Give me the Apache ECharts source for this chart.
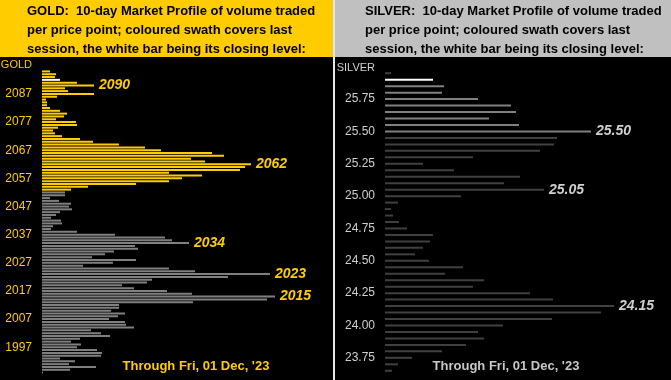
<!DOCTYPE html>
<html>
<head>
<meta charset="utf-8">
<script src="https://cdn.jsdelivr.net/npm/echarts@6/dist/echarts.min.js"></script>
<style>html,body{margin:0;padding:0;background:#000;}#c{width:671px;height:380px;}</style>
</head>
<body>
<div id="c"></div>
<script>
// ---------- GOLD ----------
const goldPrices = [2095,2094,2093,2092,2091,2090,2089,2088,2087,2086,2085,2084,2083,2082,2081,2080,2079,2078,2077,2076,2075,2074,2073,2072,2071,2070,2069,2068,2067,2066,2065,2064,2063,2062,2061,2060,2059,2058,2057,2056,2055,2054,2053,2052,2051,2050,2049,2048,2047,2046,2045,2044,2043,2042,2041,2040,2039,2038,2037,2036,2035,2034,2033,2032,2031,2030,2029,2028,2027,2026,2025,2024,2023,2022,2021,2020,2019,2018,2017,2016,2015,2014,2013,2012,2011,2010,2009,2008,2007,2006,2005,2004,2003,2002,2001,2000,1999,1998,1997,1996,1995,1994,1993,1992,1991,1990,1989,1988];
const goldVolume = [8,14,13,18,35,52,23,26,52,15,4,5,5,8,18,25,22,14,34,35,16,11,13,20,38,51,77,103,119,170,182,149,163,209,203,198,127,160,140,127,94,46,29,23,23,8,17,29,27,30,18,14,9,19,20,11,9,35,73,123,130,147,93,96,72,63,50,94,71,41,127,153,228,186,110,105,80,92,125,150,233,225,151,77,77,69,83,76,67,83,84,92,49,59,68,38,29,39,35,55,60,59,18,33,27,54,28,1];
const goldTicks = [2087,2077,2067,2057,2047,2037,2027,2017,2007,1997];
const goldSessionHigh = 2095, goldSessionLow = 2053, goldClose = 2092;
const goldCallouts = [2090,2062,2034,2023,2015];

// ---------- SILVER ----------
const silverPrices = [25.95,25.90,25.85,25.80,25.75,25.70,25.65,25.60,25.55,25.50,25.45,25.40,25.35,25.30,25.25,25.20,25.15,25.10,25.05,25.00,24.95,24.90,24.85,24.80,24.75,24.70,24.65,24.60,24.55,24.50,24.45,24.40,24.35,24.30,24.25,24.20,24.15,24.10,24.05,24.00,23.95,23.90,23.85,23.80,23.75,23.70,23.65];
const silverVolume = [6,48,59,57,93,126,131,104,134,206,172,169,155,88,38,69,135,119,159,76,13,6,8,14,22,48,45,38,30,44,78,60,99,88,145,168,229,216,167,118,93,99,81,57,27,13,7];
const silverTicks = ['25.75','25.50','25.25','25.00','24.75','24.50','24.25','24.00','23.75'];
const silverSessionHigh = 25.90, silverSessionLow = 25.50, silverClose = 25.90;
const silverCallouts = ['25.50','25.05','24.15'];

const headerGold = 'GOLD:  10-day Market Profile of volume traded\nper price point; coloured swath covers last\nsession, the white bar being its closing level:';
const headerSilver = 'SILVER:  10-day Market Profile of volume traded\nper price point; coloured swath covers last\nsession, the white bar being its closing level:';
const footer = "Through Fri, 01 Dec, '23";

const GOLD = '#FFCC00', GRAY = '#808080', DARK = '#404040', WHITE = '#FFFFFF', SILVERTXT = '#D0D0D0';
const AXFONT = "'Liberation Sans', Arial, sans-serif";
const SANS = "'Liberation Sans', Arial, sans-serif";

const calloutLabel = (text, color) => ({
  show: true, position: 'right', distance: 5, formatter: text,
  color: color, fontSize: 14, fontWeight: 'bold', fontStyle: 'italic', fontFamily: SANS
});

const goldData = goldPrices.map((p, i) => {
  let c = GRAY;
  if (p <= goldSessionHigh && p >= goldSessionLow) c = GOLD;
  if (p === goldClose) c = WHITE;
  const item = { value: goldVolume[i], itemStyle: { color: c } };
  if (goldCallouts.includes(p)) item.label = calloutLabel(String(p), GOLD);
  return item;
});

const silverCats = silverPrices.map(p => p.toFixed(2));
const silverData = silverPrices.map((p, i) => {
  let c = DARK;
  if (p <= silverSessionHigh + 1e-9 && p >= silverSessionLow - 1e-9) c = GRAY;
  if (Math.abs(p - silverClose) < 1e-9) c = WHITE;
  const item = { value: silverVolume[i], itemStyle: { color: c } };
  if (silverCallouts.includes(silverCats[i])) item.label = calloutLabel(silverCats[i], SILVERTXT);
  return item;
});

const chart = echarts.init(document.getElementById('c'), null, { renderer: 'canvas' });
chart.setOption({
  animation: false,
  backgroundColor: '#000000',
  grid: [
    { left: 42, top: 70, width: 291, height: 304 },
    { left: 385, top: 70, width: 286, height: 304 }
  ],
  xAxis: [
    { gridIndex: 0, type: 'value', min: 0, max: 291, show: false },
    { gridIndex: 1, type: 'value', min: 0, max: 286, show: false }
  ],
  yAxis: [
    { gridIndex: 0, type: 'category', inverse: true, data: goldPrices.map(String),
      axisLine: { show: false }, axisTick: { show: false }, splitLine: { show: false },
      axisLabel: { interval: (i, v) => goldTicks.includes(Number(v)), color: GOLD, fontSize: 12, fontFamily: AXFONT, margin: 10 } },
    { gridIndex: 1, type: 'category', inverse: true, data: silverCats,
      axisLine: { show: false }, axisTick: { show: false }, splitLine: { show: false },
      axisLabel: { interval: (i, v) => silverTicks.includes(v), color: SILVERTXT, fontSize: 12, fontFamily: AXFONT, margin: 10 } }
  ],
  series: [
    { type: 'bar', xAxisIndex: 0, yAxisIndex: 0, data: goldData, barWidth: 2, silent: true },
    { type: 'bar', xAxisIndex: 1, yAxisIndex: 1, data: silverData, barWidth: 2, silent: true }
  ],
  graphic: [
    { type: 'rect', left: 0, top: 0, shape: { width: 333, height: 57 }, style: { fill: GOLD }, silent: true },
    { type: 'rect', left: 335, top: 0, shape: { width: 336, height: 57 }, style: { fill: '#C0C0C0' }, silent: true },
    { type: 'rect', left: 333, top: 0, shape: { width: 2, height: 380 }, style: { fill: '#E8E8E8' }, silent: true },
    { type: 'text', left: 27, top: 2, style: { text: headerGold, fill: '#000', font: "bold 13px 'Liberation Sans', Arial, sans-serif", lineHeight: 19 } },
    { type: 'text', left: 365, top: 2, style: { text: headerSilver, fill: '#000', font: "bold 13px 'Liberation Sans', Arial, sans-serif", lineHeight: 19 } },
    { type: 'text', x: 32, y: 65, style: { text: 'GOLD', fill: GOLD, font: "11px " + AXFONT, textAlign: 'right', textVerticalAlign: 'middle' } },
    { type: 'text', x: 375, y: 68, style: { text: 'SILVER', fill: SILVERTXT, font: "11px " + AXFONT, textAlign: 'right', textVerticalAlign: 'middle' } },
    { type: 'text', x: 196, y: 366, style: { text: footer, fill: GOLD, font: "bold 13px 'Liberation Sans', Arial, sans-serif", textAlign: 'center', textVerticalAlign: 'middle' } },
    { type: 'text', x: 506, y: 366, style: { text: footer, fill: '#C8C8C8', font: "bold 13px 'Liberation Sans', Arial, sans-serif", textAlign: 'center', textVerticalAlign: 'middle' } }
  ]
});
</script>
</body>
</html>
